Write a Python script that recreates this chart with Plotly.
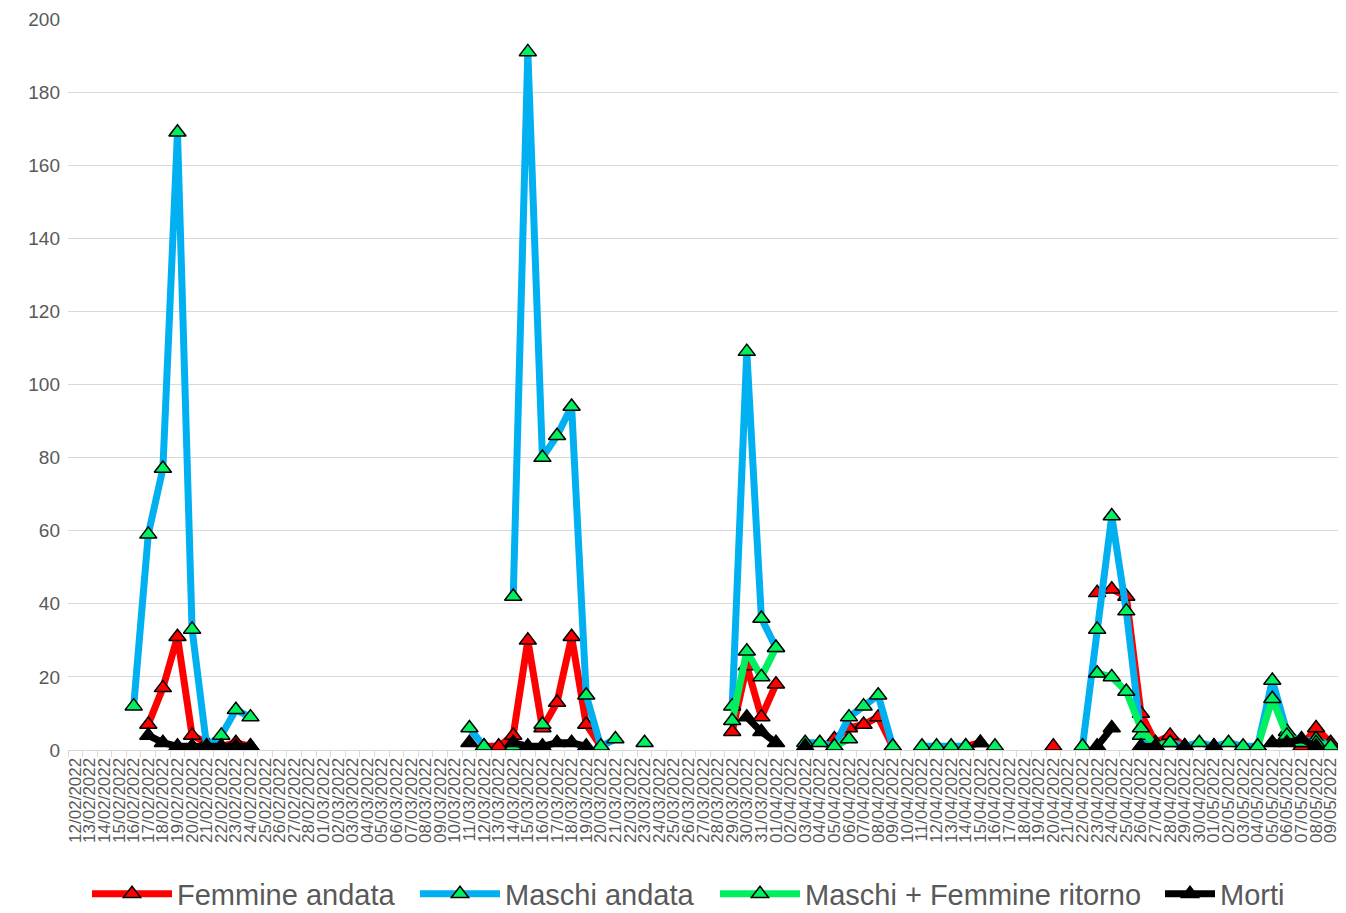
import datetime as dt
import plotly.graph_objects as go

# ---- categories: every day from 12/02/2022 to 09/05/2022 ----
start = dt.date(2022, 2, 12)
categories = [(start + dt.timedelta(days=i)).strftime("%d/%m/%Y") for i in range(87)]

# ---- series data (day/month of each point, value) ----
femmine_days = ["17/02", "18/02", "19/02", "20/02", "21/02", "22/02", "23/02", "24/02",
                "12/03", "13/03", "14/03", "15/03", "16/03", "17/03", "18/03", "19/03", "20/03",
                "29/03", "30/03", "31/03", "01/04",
                "05/04", "06/04", "07/04", "08/04", "09/04",
                "14/04", "15/04",
                "20/04",
                "23/04", "24/04", "25/04", "26/04", "27/04", "28/04", "29/04",
                "07/05", "08/05", "09/05"]
femmine_vals = [7, 17, 31, 4, 2, 1, 2, 1,
                1, 1, 4, 30, 6, 13, 31, 7, 1,
                5, 23, 9, 18,
                3, 6, 7, 9, 1,
                1, 2,
                1,
                43, 44, 42, 10, 2, 4, 1,
                1, 6, 2]

maschi_days = ["16/02", "17/02", "18/02", "19/02", "20/02", "21/02", "22/02", "23/02", "24/02",
               "11/03", "12/03",
               "14/03", "15/03", "16/03", "17/03", "18/03", "19/03", "20/03", "21/03",
               "23/03",
               "29/03", "30/03", "31/03", "01/04",
               "03/04", "04/04", "05/04", "06/04", "07/04", "08/04", "09/04",
               "11/04", "12/04", "13/04", "14/04",
               "16/04",
               "22/04", "23/04", "24/04", "25/04", "26/04", "27/04", "28/04", "29/04", "30/04",
               "01/05", "02/05", "03/05", "04/05", "05/05", "06/05", "07/05", "08/05", "09/05"]
maschi_vals = [12, 59, 77, 169, 33, 1, 4, 11, 9,
               6, 1,
               42, 191, 80, 86, 94, 15, 1, 3,
               2,
               12, 109, 36, 28,
               2, 2, 1, 9, 12, 15, 1,
               1, 1, 1, 1,
               1,
               1, 33, 64, 38, 4, 1, 2, 1, 2,
               1, 2, 1, 1, 19, 5, 2, 3, 1]

ritorno_days = ["14/03", "16/03",
                "29/03", "30/03", "31/03", "01/04",
                "05/04", "06/04",
                "23/04", "24/04", "25/04", "26/04", "27/04", "28/04",
                "04/05", "05/05", "06/05", "07/05", "08/05", "09/05"]
ritorno_vals = [1, 7,
                8, 27, 20, 28,
                1, 3,
                21, 20, 16, 6, 1, 2,
                1, 14, 4, 2, 2, 1]

morti_days = ["17/02", "18/02", "19/02", "20/02", "21/02", "22/02", "23/02", "24/02",
              "11/03",
              "14/03", "15/03", "16/03", "17/03", "18/03", "19/03",
              "30/03", "31/03", "01/04",
              "03/04",
              "15/04",
              "23/04", "24/04",
              "26/04", "27/04",
              "29/04",
              "01/05",
              "05/05", "06/05", "07/05", "08/05"]
morti_vals = [4, 2, 1, 1, 1, 1, 1, 1,
              2,
              2, 1, 1, 2, 2, 1,
              9, 5, 2,
              1,
              2,
              1, 6,
              1, 1,
              1,
              1,
              2, 2, 3, 1]

series_names = ["Femmine andata", "Maschi andata", "Maschi + Femmine ritorno", "Morti"]
line_colors = ["#FF0000", "#00B0F0", "#00F060", "#000000"]
marker_colors = ["#FF0000", "#00F060", "#00F060", "#000000"]
legend_ids = ["legend", "legend2", "legend3", "legend4"]


def to_full(days, vals):
    lookup = {d + "/2022": v for d, v in zip(days, vals)}
    return [lookup.get(c) for c in categories]


all_series = [(femmine_days, femmine_vals), (maschi_days, maschi_vals),
              (ritorno_days, ritorno_vals), (morti_days, morti_vals)]

fig = go.Figure()
for (days, vals), name, lc, mc, lg in zip(all_series, series_names, line_colors,
                                         marker_colors, legend_ids):
    fig.add_trace(go.Scatter(
        x=categories, y=to_full(days, vals), name=name, legend=lg,
        mode="lines+markers", connectgaps=False,
        line=dict(color=lc, width=7),
        marker=dict(symbol="triangle-up", size=15, color=mc,
                    line=dict(color="#000000", width=1.5)),
    ))

legend_font = dict(size=29, family="Liberation Sans, Arial, sans-serif", color="#595959")
FIG_W, FIG_H = 1346, 913


def legend_at(xpix, itemwidth):
    return dict(orientation="h", xref="container", yref="container",
                x=xpix / FIG_W, xanchor="left", y=1 - 886 / FIG_H, yanchor="middle",
                font=legend_font, itemwidth=itemwidth, bgcolor="rgba(0,0,0,0)")


fig.update_layout(
    width=FIG_W, height=FIG_H,
    margin=dict(l=60, r=16, t=11, b=171, autoexpand=False),
    paper_bgcolor="white", plot_bgcolor="white",
    font=dict(family="Liberation Sans, Arial, sans-serif", color="#595959"),
    showlegend=True,
    legend=legend_at(79, 80),
    legend2=legend_at(407, 80),
    legend3=legend_at(707, 80),
    legend4=legend_at(1152, 50),
)
fig.update_xaxes(
    type="category", range=[-0.5, 86.5], automargin=False,
    tickmode="array", tickvals=categories, ticktext=categories,
    tickangle=-90, tickfont=dict(size=17, color="#595959"),
    showgrid=False, showline=True, linecolor="#D9D9D9", linewidth=1,
    ticks="outside", tickson="boundaries", ticklen=6, tickcolor="#D9D9D9",
)
fig.update_yaxes(
    range=[0, 200], dtick=20, automargin=False,
    tickfont=dict(size=19, color="#595959"), ticklabelstandoff=7,
    showgrid=True, gridcolor="#D9D9D9", gridwidth=1,
    zeroline=False, showline=False, ticks="",
)

fig.write_html("out.html")
